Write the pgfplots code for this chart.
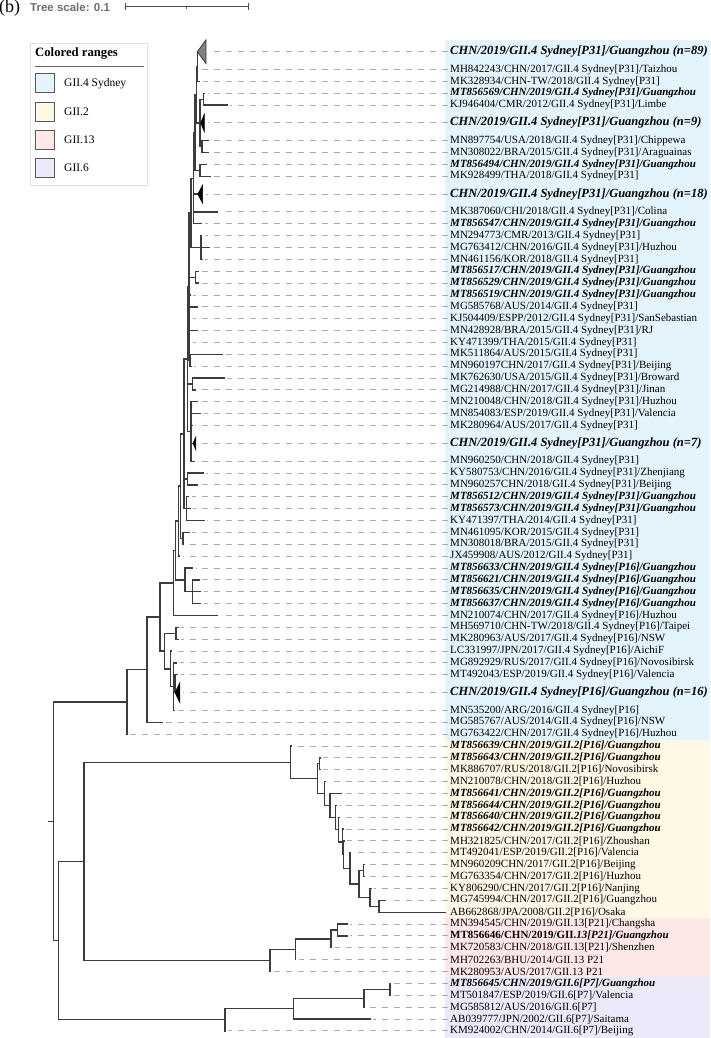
\documentclass[border=0pt]{standalone}
\usepackage{fontspec}
\setmainfont{Liberation Serif}
\newfontfamily\lsans{Liberation Sans}
\usepackage{pgfplots}
\pgfplotsset{compat=1.18}
\definecolor{cSyd}{HTML}{E3F4FC}
\definecolor{cGb}{HTML}{FEF8E5}
\definecolor{cGc}{HTML}{FDE7E7}
\definecolor{cGd}{HTML}{ECEAFA}
\definecolor{treec}{HTML}{3C3C3C}
\definecolor{dashc}{HTML}{ABABAB}
\definecolor{scalec}{HTML}{6E6E6E}
\newcommand{\lf}{\fontsize{11}{13}\selectfont}
\newcommand{\bif}{\fontsize{11}{13}\selectfont\bfseries\itshape}
\newcommand{\cf}{\fontsize{12.5}{14}\selectfont\bfseries\itshape}
\newcommand{\lab}[2]{\node[anchor=west,inner sep=0pt,font=\lf] at (axis cs:450,#1) {#2};}
\newcommand{\blab}[2]{\node[anchor=west,inner sep=0pt,font=\bif] at (axis cs:450,#1) {#2};}
\newcommand{\clab}[2]{\node[anchor=west,inner sep=0pt,font=\cf] at (axis cs:450,#1) {#2};}
\begin{document}
\begin{tikzpicture}
\begin{axis}[
 scale only axis, width=710pt, height=1038pt,
 xmin=0, xmax=710, ymin=-4.356, ymax=83.1, y dir=reverse,
 axis line style={draw=none}, xtick=\empty, ytick=\empty,
 clip=false, unbounded coords=jump]
% colored ranges
\addplot[fill=cSyd, draw=none] coordinates {(445,-1) (710,-1) (710,58) (445,58)} -- cycle;
\addplot[fill=cGb, draw=none] coordinates {(445,58) (710,58) (710,73) (445,73)} -- cycle;
\addplot[fill=cGc, draw=none] coordinates {(445,73) (710,73) (710,78) (445,78)} -- cycle;
\addplot[fill=cGd, draw=none] coordinates {(445,78) (710,78) (710,83.1) (445,83.1)} -- cycle;
% dashed leaders
\addplot[dashc, line width=1pt, dash pattern=on 6pt off 6pt] table[row sep=\\] {x y\\
448 0\\ 209 0\\ nan nan\\
448 1.5\\ 200.8 1.5\\ nan nan\\
448 2.5\\ 202.5 2.5\\ nan nan\\
448 3.5\\ 207.5 3.5\\ nan nan\\
448 4.5\\ 230.3 4.5\\ nan nan\\
448 6\\ 207.5 6\\ nan nan\\
448 7.5\\ 211 7.5\\ nan nan\\
448 8.5\\ 211 8.5\\ nan nan\\
448 9.5\\ 209.7 9.5\\ nan nan\\
448 10.5\\ 213 10.5\\ nan nan\\
448 12\\ 205.7 12\\ nan nan\\
448 13.5\\ 220.7 13.5\\ nan nan\\
448 14.5\\ 204.7 14.5\\ nan nan\\
448 15.5\\ 204.7 15.5\\ nan nan\\
448 16.5\\ 212.3 16.5\\ nan nan\\
448 17.5\\ 205 17.5\\ nan nan\\
448 18.5\\ 201.5 18.5\\ nan nan\\
448 19.5\\ 201.5 19.5\\ nan nan\\
448 20.5\\ 193 20.5\\ nan nan\\
448 21.5\\ 200.3 21.5\\ nan nan\\
448 22.5\\ 192.8 22.5\\ nan nan\\
448 23.5\\ 200.3 23.5\\ nan nan\\
448 24.5\\ 192.8 24.5\\ nan nan\\
448 25.5\\ 225.3 25.5\\ nan nan\\
448 26.5\\ 194 26.5\\ nan nan\\
448 27.5\\ 227.3 27.5\\ nan nan\\
448 28.5\\ 198 28.5\\ nan nan\\
448 29.5\\ 200.3 29.5\\ nan nan\\
448 30.5\\ 203.7 30.5\\ nan nan\\
448 31.5\\ 195 31.5\\ nan nan\\
448 33\\ 199 33\\ nan nan\\
448 34.5\\ 197 34.5\\ nan nan\\
448 35.5\\ 206.3 35.5\\ nan nan\\
448 36.5\\ 200.3 36.5\\ nan nan\\
448 37.5\\ 191.5 37.5\\ nan nan\\
448 38.5\\ 193 38.5\\ nan nan\\
448 39.5\\ 207 39.5\\ nan nan\\
448 40.5\\ 192 40.5\\ nan nan\\
448 41.5\\ 186.5 41.5\\ nan nan\\
448 42.5\\ 182.5 42.5\\ nan nan\\
448 43.5\\ 195.5 43.5\\ nan nan\\
448 44.5\\ 202 44.5\\ nan nan\\
448 45.5\\ 203.5 45.5\\ nan nan\\
448 46.5\\ 203.5 46.5\\ nan nan\\
448 47.5\\ 220 47.5\\ nan nan\\
448 48.5\\ 181 48.5\\ nan nan\\
448 49.5\\ 181 49.5\\ nan nan\\
448 50.5\\ 174.5 50.5\\ nan nan\\
448 51.5\\ 179.7 51.5\\ nan nan\\
448 52.5\\ 180.5 52.5\\ nan nan\\
448 54\\ 183 54\\ nan nan\\
448 55.5\\ 177.5 55.5\\ nan nan\\
448 56.5\\ 165 56.5\\ nan nan\\
448 57.5\\ 130 57.5\\ nan nan\\
448 58.5\\ 294 58.5\\ nan nan\\
448 59.5\\ 323 59.5\\ nan nan\\
448 60.5\\ 323 60.5\\ nan nan\\
448 61.5\\ 328 61.5\\ nan nan\\
448 62.5\\ 344.7 62.5\\ nan nan\\
448 63.5\\ 339.5 63.5\\ nan nan\\
448 64.5\\ 342 64.5\\ nan nan\\
448 65.5\\ 346 65.5\\ nan nan\\
448 66.5\\ 347 66.5\\ nan nan\\
448 67.5\\ 353.5 67.5\\ nan nan\\
448 68.5\\ 367.5 68.5\\ nan nan\\
448 69.5\\ 367.5 69.5\\ nan nan\\
448 70.5\\ 374 70.5\\ nan nan\\
448 71.5\\ 388 71.5\\ nan nan\\
448 73.5\\ 350 73.5\\ nan nan\\
448 74.5\\ 350 74.5\\ nan nan\\
448 75.5\\ 334.5 75.5\\ nan nan\\
448 76.5\\ 298.5 76.5\\ nan nan\\
448 77.5\\ 273 77.5\\ nan nan\\
448 78.5\\ 393.5 78.5\\ nan nan\\
448 79.5\\ 393.5 79.5\\ nan nan\\
448 80.5\\ 367.5 80.5\\ nan nan\\
448 81.5\\ 373 81.5\\ nan nan\\
448 82.5\\ 228 82.5\\
};
% tree branches
\addplot[treec, line width=1.3pt, line cap=rect] table[row sep=\\] {x y\\
197.3 0\\ 197.3 2.5\\ 199.5 2.5\\ nan nan\\
197.3 1.5\\ 197.8 1.5\\ nan nan\\
204.5 3.5\\ 203.3 3.5\\ 203.3 4.5\\ 227.3 4.5\\ nan nan\\
208 7.5\\ 202 7.5\\ 202 8.5\\ 208 8.5\\ nan nan\\
203.3 4\\ 200 4\\ 200 8\\ 202 8\\ nan nan\\
200 6\\ 200.7 6\\ nan nan\\
197.3 1.25\\ 196.5 1.25\\ 196.5 6\\ 200 6\\ nan nan\\
206.7 9.5\\ 200 9.5\\ 200 10.5\\ 210 10.5\\ nan nan\\
196.5 3.625\\ 195 3.625\\ 195 10\\ 200 10\\ nan nan\\
195 6.81\\ 193.3 6.81\\ 193.3 14.5\\ 201.7 14.5\\ nan nan\\
193.3 12\\ 197.7 12\\ nan nan\\
193.3 13.5\\ 217.7 13.5\\ nan nan\\
201.7 15.5\\ 201 15.5\\ 201 17.5\\ 202 17.5\\ nan nan\\
201 16.5\\ 209.3 16.5\\ nan nan\\
193.3 10.66\\ 191 10.66\\ 191 16.5\\ 201 16.5\\ nan nan\\
198.5 18.5\\ 195.7 18.5\\ 195.7 19.5\\ 198.5 19.5\\ nan nan\\
222.3 25.5\\ 190 25.5\\ 190 26.5\\ 191 26.5\\ nan nan\\
191 13.58\\ 189 13.58\\ 189 26\\ 190 26\\ nan nan\\
189 19\\ 195.7 19\\ nan nan\\
189 20.5\\ 190 20.5\\ nan nan\\
189 21.5\\ 197.3 21.5\\ nan nan\\
189 22.5\\ 189.8 22.5\\ nan nan\\
189 23.5\\ 197.3 23.5\\ nan nan\\
189 24.5\\ 189.8 24.5\\ nan nan\\
224.3 27.5\\ 192.3 27.5\\ 192.3 28.5\\ 195 28.5\\ nan nan\\
197.3 29.5\\ 191 29.5\\ 191 34.5\\ 194 34.5\\ nan nan\\
191 30.5\\ 200.7 30.5\\ nan nan\\
191 31.5\\ 192 31.5\\ nan nan\\
191 33\\ 193 33\\ nan nan\\
189 19.79\\ 187.7 19.79\\ 187.7 32\\ 191 32\\ nan nan\\
187.7 28\\ 192.3 28\\ nan nan\\
203.3 35.5\\ 187.7 35.5\\ 187.7 36.5\\ 197.3 36.5\\ nan nan\\
188.5 37.5\\ 186.5 37.5\\ 186.5 39.5\\ 204 39.5\\ nan nan\\
186.5 38.5\\ 190 38.5\\ nan nan\\
187.7 25.9\\ 184 25.9\\ 184 38.5\\ 186.5 38.5\\ nan nan\\
184 36\\ 187.7 36\\ nan nan\\
189 40.5\\ 183 40.5\\ 183 41.5\\ 183.5 41.5\\ nan nan\\
184 32.2\\ 180.5 32.2\\ 180.5 41\\ 183 41\\ nan nan\\
180.5 36.6\\ 178.3 36.6\\ 178.3 42.5\\ 179.5 42.5\\ nan nan\\
199 44.5\\ 192.3 44.5\\ 192.3 46.5\\ 200.5 46.5\\ nan nan\\
192.3 45.5\\ 200.5 45.5\\ nan nan\\
192.5 43.5\\ 185 43.5\\ 185 45.5\\ 192.3 45.5\\ nan nan\\
178.3 39.55\\ 175.5 39.55\\ 175.5 44.5\\ 185 44.5\\ nan nan\\
175.5 42.03\\ 173.3 42.03\\ 173.3 47.5\\ 217 47.5\\ nan nan\\
178 48.5\\ 176 48.5\\ 176 49.5\\ 178 49.5\\ nan nan\\
177.5 52.5\\ 175 52.5\\ 175 54\\ nan nan\\
176.7 51.5\\ 173.7 51.5\\ 173.7 55.5\\ 174.5 55.5\\ nan nan\\
173.7 53.25\\ 175 53.25\\ nan nan\\
171.5 50.5\\ 170.3 50.5\\ 170.3 53.5\\ 173.7 53.5\\ nan nan\\
176 49\\ 164.7 49\\ 164.7 52\\ 170.3 52\\ nan nan\\
173.3 44.76\\ 160 44.76\\ 160 50.5\\ 164.7 50.5\\ nan nan\\
160 47.63\\ 147 47.63\\ 147 56.5\\ 162 56.5\\ nan nan\\
147 52.07\\ 127 52.07\\ 127 57.5\\ nan nan\\
385 71.5\\ 379 71.5\\ 379 72.5\\ 445 72.5\\ nan nan\\
371 70.5\\ 370 70.5\\ 370 72\\ 379 72\\ nan nan\\
364.5 68.5\\ 363.3 68.5\\ 363.3 69.5\\ 364.5 69.5\\ nan nan\\
363.3 69\\ 359 69\\ 359 71.25\\ 370 71.25\\ nan nan\\
350.5 67.5\\ 350 67.5\\ 350 70.125\\ 359 70.125\\ nan nan\\
344 66.5\\ 343.3 66.5\\ 343.3 68.81\\ 350 68.81\\ nan nan\\
343 65.5\\ 342.3 65.5\\ 342.3 67.66\\ 343.3 67.66\\ nan nan\\
339 64.5\\ 338.3 64.5\\ 338.3 66.58\\ 342.3 66.58\\ nan nan\\
336.5 63.5\\ 335.7 63.5\\ 335.7 65.54\\ 338.3 65.54\\ nan nan\\
341.7 62.5\\ 330 62.5\\ 330 64.52\\ 335.7 64.52\\ nan nan\\
325 61.5\\ 324.3 61.5\\ 324.3 63.51\\ 330 63.51\\ nan nan\\
320 59.5\\ 319.3 59.5\\ 319.3 60.5\\ 320 60.5\\ nan nan\\
319.3 60\\ 317.7 60\\ 317.7 62.5\\ 324.3 62.5\\ nan nan\\
291 58.5\\ 290.7 58.5\\ 290.7 61.25\\ 317.7 61.25\\ nan nan\\
347 73.5\\ 337.7 73.5\\ 337.7 74.5\\ 347 74.5\\ nan nan\\
337.7 74\\ 331 74\\ 331 75.5\\ 331.5 75.5\\ nan nan\\
331 74.75\\ 295.3 74.75\\ 295.3 76.5\\ 295.5 76.5\\ nan nan\\
295.3 75.625\\ 270 75.625\\ 270 77.5\\ nan nan\\
290.7 59.875\\ 84 59.875\\ 84 76.56\\ 270 76.56\\ nan nan\\
390.5 78.5\\ 390 78.5\\ 390 79.5\\ 390.5 79.5\\ nan nan\\
390 79\\ 364 79\\ 364 80.5\\ 364.5 80.5\\ nan nan\\
364 79.75\\ 293.7 79.75\\ 293.7 81.5\\ 370 81.5\\ nan nan\\
293.7 80.625\\ 225 80.625\\ 225 82.5\\ nan nan\\
84 68.22\\ 58.3 68.22\\ 58.3 81.56\\ 225 81.56\\ nan nan\\
127 54.79\\ 53.3 54.79\\ 53.3 74.89\\ 58.3 74.89\\ nan nan\\
49 64.84\\ 53.3 64.84\\
};
% collapsed clades
\addplot[fill=gray, draw=treec, line width=0.8pt] coordinates {(197.3,0) (206,-1.0) (206,1.0)} -- cycle;
\addplot[fill=black, draw=black, line width=0.5pt] coordinates {(200.7,6) (204.3,5.25) (204.3,6.75)} -- cycle;
\addplot[fill=black, draw=black, line width=0.5pt] coordinates {(197.7,12) (202.5,11.25) (202.5,12.75)} -- cycle;
\addplot[fill=black, draw=black, line width=0.5pt] coordinates {(193,33) (195.8,32.45) (195.8,33.55)} -- cycle;
\addplot[fill=black, draw=black, line width=0.5pt] coordinates {(175,54) (179.8,53.15) (179.8,54.85)} -- cycle;
% labels
\clab{0}{CHN/2019/GII.4 Sydney[P31]/Guangzhou (n=89)}
\lab{1.5}{MH842243/CHN/2017/GII.4 Sydney[P31]/Taizhou}
\lab{2.5}{MK328934/CHN-TW/2018/GII.4 Sydney[P31]}
\blab{3.5}{MT856569/CHN/2019/GII.4 Sydney[P31]/Guangzhou}
\lab{4.5}{KJ946404/CMR/2012/GII.4 Sydney[P31]/Limbe}
\clab{6}{CHN/2019/GII.4 Sydney[P31]/Guangzhou (n=9)}
\lab{7.5}{MN897754/USA/2018/GII.4 Sydney[P31]/Chippewa}
\lab{8.5}{MN308022/BRA/2015/GII.4 Sydney[P31]/Araguainas}
\blab{9.5}{MT856494/CHN/2019/GII.4 Sydney[P31]/Guangzhou}
\lab{10.5}{MK928499/THA/2018/GII.4 Sydney[P31]}
\clab{12}{CHN/2019/GII.4 Sydney[P31]/Guangzhou (n=18)}
\lab{13.5}{MK387060/CHI/2018/GII.4 Sydney[P31]/Colina}
\blab{14.5}{MT856547/CHN/2019/GII.4 Sydney[P31]/Guangzhou}
\lab{15.5}{MN294773/CMR/2013/GII.4 Sydney[P31]}
\lab{16.5}{MG763412/CHN/2016/GII.4 Sydney[P31]/Huzhou}
\lab{17.5}{MN461156/KOR/2018/GII.4 Sydney[P31]}
\blab{18.5}{MT856517/CHN/2019/GII.4 Sydney[P31]/Guangzhou}
\blab{19.5}{MT856529/CHN/2019/GII.4 Sydney[P31]/Guangzhou}
\blab{20.5}{MT856519/CHN/2019/GII.4 Sydney[P31]/Guangzhou}
\lab{21.5}{MG585768/AUS/2014/GII.4 Sydney[P31]}
\lab{22.5}{KJ504409/ESPP/2012/GII.4 Sydney[P31]/SanSebastian}
\lab{23.5}{MN428928/BRA/2015/GII.4 Sydney[P31]/RJ}
\lab{24.5}{KY471399/THA/2015/GII.4 Sydney[P31]}
\lab{25.5}{MK511864/AUS/2015/GII.4 Sydney[P31]}
\lab{26.5}{MN960197CHN/2017/GII.4 Sydney[P31]/Beijing}
\lab{27.5}{MK762630/USA/2015/GII.4 Sydney[P31]/Broward}
\lab{28.5}{MG214988/CHN/2017/GII.4 Sydney[P31]/Jinan}
\lab{29.5}{MN210048/CHN/2018/GII.4 Sydney[P31]/Huzhou}
\lab{30.5}{MN854083/ESP/2019/GII.4 Sydney[P31]/Valencia}
\lab{31.5}{MK280964/AUS/2017/GII.4 Sydney[P31]}
\clab{33}{CHN/2019/GII.4 Sydney[P31]/Guangzhou (n=7)}
\lab{34.5}{MN960250/CHN/2018/GII.4 Sydney[P31]}
\lab{35.5}{KY580753/CHN/2016/GII.4 Sydney[P31]/Zhenjiang}
\lab{36.5}{MN960257CHN/2018/GII.4 Sydney[P31]/Beijing}
\blab{37.5}{MT856512/CHN/2019/GII.4 Sydney[P31]/Guangzhou}
\blab{38.5}{MT856573/CHN/2019/GII.4 Sydney[P31]/Guangzhou}
\lab{39.5}{KY471397/THA/2014/GII.4 Sydney[P31]}
\lab{40.5}{MN461095/KOR/2015/GII.4 Sydney[P31]}
\lab{41.5}{MN308018/BRA/2015/GII.4 Sydney[P31]}
\lab{42.5}{JX459908/AUS/2012/GII.4 Sydney[P31]}
\blab{43.5}{MT856633/CHN/2019/GII.4 Sydney[P16]/Guangzhou}
\blab{44.5}{MT856621/CHN/2019/GII.4 Sydney[P16]/Guangzhou}
\blab{45.5}{MT856635/CHN/2019/GII.4 Sydney[P16]/Guangzhou}
\blab{46.5}{MT856637/CHN/2019/GII.4 Sydney[P16]/Guangzhou}
\lab{47.5}{MN210074/CHN/2017/GII.4 Sydney[P16]/Huzhou}
\lab{48.5}{MH569710/CHN-TW/2018/GII.4 Sydney[P16]/Taipei}
\lab{49.5}{MK280963/AUS/2017/GII.4 Sydney[P16]/NSW}
\lab{50.5}{LC331997/JPN/2017/GII.4 Sydney[P16]/AichiF}
\lab{51.5}{MG892929/RUS/2017/GII.4 Sydney[P16]/Novosibirsk}
\lab{52.5}{MT492043/ESP/2019/GII.4 Sydney[P16]/Valencia}
\clab{54}{CHN/2019/GII.4 Sydney[P16]/Guangzhou (n=16)}
\lab{55.5}{MN535200/ARG/2016/GII.4 Sydney[P16]}
\lab{56.5}{MG585767/AUS/2014/GII.4 Sydney[P16]/NSW}
\lab{57.5}{MG763422/CHN/2017/GII.4 Sydney[P16]/Huzhou}
\blab{58.5}{MT856639/CHN/2019/GII.2[P16]/Guangzhou}
\blab{59.5}{MT856643/CHN/2019/GII.2[P16]/Guangzhou}
\lab{60.5}{MK886707/RUS/2018/GII.2[P16]/Novosibirsk}
\lab{61.5}{MN210078/CHN/2018/GII.2[P16]/Huzhou}
\blab{62.5}{MT856641/CHN/2019/GII.2[P16]/Guangzhou}
\blab{63.5}{MT856644/CHN/2019/GII.2[P16]/Guangzhou}
\blab{64.5}{MT856640/CHN/2019/GII.2[P16]/Guangzhou}
\blab{65.5}{MT856642/CHN/2019/GII.2[P16]/Guangzhou}
\lab{66.5}{MH321825/CHN/2017/GII.2[P16]/Zhoushan}
\lab{67.5}{MT492041/ESP/2019/GII.2[P16]/Valencia}
\lab{68.5}{MN960209CHN/2017/GII.2[P16]/Beijing}
\lab{69.5}{MG763354/CHN/2017/GII.2[P16]/Huzhou}
\lab{70.5}{KY806290/CHN/2017/GII.2[P16]/Nanjing}
\lab{71.5}{MG745994/CHN/2017/GII.2[P16]/Guangzhou}
\lab{72.5}{AB662868/JPA/2008/GII.2[P16]/Osaka}
\lab{73.5}{MN394545/CHN/2019/GII.13[P21]/Changsha}
\node[anchor=west,inner sep=0pt,font=\fontsize{11}{13}\selectfont\bfseries] at (axis cs:450,74.5) {MT856646/CHN/2019/GII.\itshape 13[P21]/Guangzhou};
\lab{75.5}{MK720583/CHN/2018/GII.13[P21]/Shenzhen}
\lab{76.5}{MH702263/BHU/2014/GII.13 P21}
\lab{77.5}{MK280953/AUS/2017/GII.13 P21}
\blab{78.5}{MT856645/CHN/2019/GII.6[P7]/Guangzhou}
\lab{79.5}{MT501847/ESP/2019/GII.6[P7]/Valencia}
\lab{80.5}{MG585812/AUS/2016/GII.6[P7]}
\lab{81.5}{AB039777/JPN/2002/GII.6[P7]/Saitama}
\lab{82.5}{KM924002/CHN/2014/GII.6[P7]/Beijing}
% legend
\draw[draw=black!12, fill=white, line width=0.8pt] (axis cs:30.7,-0.733) rectangle (axis cs:147,11.23);
\node[anchor=west, inner sep=0pt, font=\fontsize{12.7}{15}\selectfont\bfseries] at (axis cs:35,0.135) {Colored ranges};
\draw[black!60, line width=1pt] (axis cs:35,1.264) -- (axis cs:144,1.264);
\draw[draw=black!65, fill=cSyd, line width=0.8pt] (axis cs:35,1.86) rectangle (axis cs:54.3,3.46);
\draw[draw=black!65, fill=cGb, line width=0.8pt] (axis cs:35,4.25) rectangle (axis cs:54.3,5.85);
\draw[draw=black!65, fill=cGc, line width=0.8pt] (axis cs:35,6.64) rectangle (axis cs:54.3,8.24);
\draw[draw=black!65, fill=cGd, line width=0.8pt] (axis cs:35,9.02) rectangle (axis cs:54.3,10.62);
\node[anchor=west, inner sep=0pt, font=\fontsize{11.5}{13}\selectfont] at (axis cs:64,2.66) {GII.4 Sydney};
\node[anchor=west, inner sep=0pt, font=\fontsize{11.5}{13}\selectfont] at (axis cs:64,5.05) {GII.2};
\node[anchor=west, inner sep=0pt, font=\fontsize{11.5}{13}\selectfont] at (axis cs:64,7.44) {GII.13};
\node[anchor=west, inner sep=0pt, font=\fontsize{11.5}{13}\selectfont] at (axis cs:64,9.82) {GII.6};
% title and scale
\node[anchor=west, inner sep=0pt, font=\fontsize{18}{20}\selectfont] at (axis cs:-1,-3.70) {(b)};
\node[anchor=west, inner sep=0pt, font=\lsans\fontsize{11.5}{13}\selectfont\bfseries, text=scalec] at (axis cs:30,-3.74) {Tree scale: 0.1};
\draw[black!70, line width=1pt] (axis cs:125,-3.79) -- (axis cs:248,-3.79);
\draw[black!70, line width=1pt] (axis cs:125,-4.07) -- (axis cs:125,-3.51);
\draw[black!70, line width=1pt] (axis cs:248,-4.07) -- (axis cs:248,-3.51);
\draw[black!70, line width=0.8pt] (axis cs:186.5,-3.79) -- (axis cs:186.5,-3.6);
\end{axis}
\pgfresetboundingbox
\useasboundingbox (current axis.south west) rectangle (current axis.north east);
\end{tikzpicture}
\end{document}
